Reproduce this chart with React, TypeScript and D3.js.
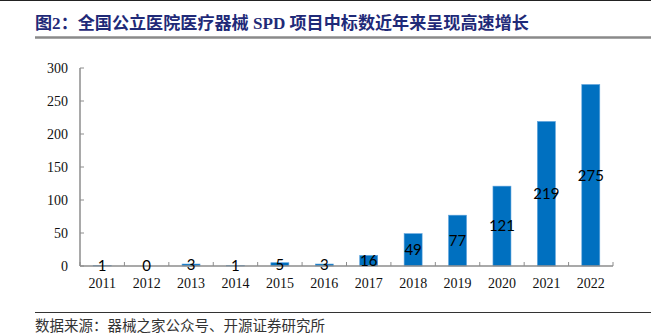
import React from "react";
import * as d3 from "d3";

const years = ["2011", "2012", "2013", "2014", "2015", "2016", "2017", "2018", "2019", "2020", "2021", "2022"];
const counts = [1, 0, 3, 1, 5, 3, 16, 49, 77, 121, 219, 275];
const yTicks = [0, 50, 100, 150, 200, 250, 300];
const titleText = "图2：全国公立医院医疗器械 SPD 项目中标数近年来呈现高速增长";
const sourceText = "数据来源：器械之家公众号、开源证券研究所";

export default function App() {
  const W = 651, H = 335;
  const x0 = 80, x1 = 613, y0 = 266, yTop = 68;
  const x = d3.scaleBand<string>().domain(years).range([x0, x1]).paddingInner(0).paddingOuter(0);
  const y = d3.scaleLinear().domain([0, 300]).range([y0, yTop]);
  const bw = 18;
  const axisColor = "#8c8c8c";
  const boundaries = years.map((yr) => x(yr) as number).concat([x1]);
  return (
    <svg width={W} height={H} style={{ position: "absolute", left: 0, top: 0, background: "#fff" }}>
      <line x1={0} x2={W} y1={0.5} y2={0.5} stroke="#222" strokeWidth={1} />
      <text x={35} y={29} fill="#1f2a78" fontSize={17.1} fontWeight="bold" fontFamily="'Liberation Serif', 'Noto Sans CJK SC', serif">
        {titleText}
      </text>
      <line x1={35} x2={W} y1={37.5} y2={37.5} stroke="#8a8a8a" strokeWidth={2.5} />
      {counts.map((v, i) => {
        const cx = (x(years[i]) as number) + x.bandwidth() / 2;
        return (
          <rect key={"b" + i} x={cx - bw / 2} y={y(v)} width={bw} height={y0 - y(v)} fill="#0070c0" stroke="#5fa3dc" strokeWidth={0.6} />
        );
      })}
      <line x1={x0} x2={x0} y1={yTop} y2={y0} stroke={axisColor} strokeWidth={1.5} />
      {yTicks.map((t) => (
        <g key={"yt" + t}>
          <line x1={x0} x2={x0 + 4} y1={y(t)} y2={y(t)} stroke={axisColor} strokeWidth={1} />
          <text x={68} y={y(t)} dy="0.35em" textAnchor="end" fontSize={14} fontFamily="'Liberation Serif', serif" fill="#111">
            {t}
          </text>
        </g>
      ))}
      <line x1={x0} x2={x1} y1={y0} y2={y0} stroke={axisColor} strokeWidth={1.5} />
      {boundaries.map((bx, i) => (
        <line key={"xt" + i} x1={bx} x2={bx} y1={y0} y2={y0 - 4} stroke={axisColor} strokeWidth={1} />
      ))}
      {years.map((yr) => (
        <text key={"xl" + yr} x={(x(yr) as number) + x.bandwidth() / 2} y={288} textAnchor="middle" fontSize={14} fontFamily="'Liberation Serif', serif" fill="#111">
          {yr}
        </text>
      ))}
      {counts.map((v, i) => {
        const cx = (x(years[i]) as number) + x.bandwidth() / 2;
        return (
          <text key={"l" + i} x={cx} y={(y(v) + y0) / 2} dy="0.35em" textAnchor="middle" fontSize={15} fontFamily="Lato, 'Open Sans', sans-serif" fill="#000">
            {v}
          </text>
        );
      })}
      <line x1={35} x2={W} y1={312.5} y2={312.5} stroke="#333" strokeWidth={1} />
      <text x={35} y={331} fontSize={14.5} fontFamily="'Noto Sans CJK SC', sans-serif" fill="#333">
        {sourceText}
      </text>
    </svg>
  );
}
